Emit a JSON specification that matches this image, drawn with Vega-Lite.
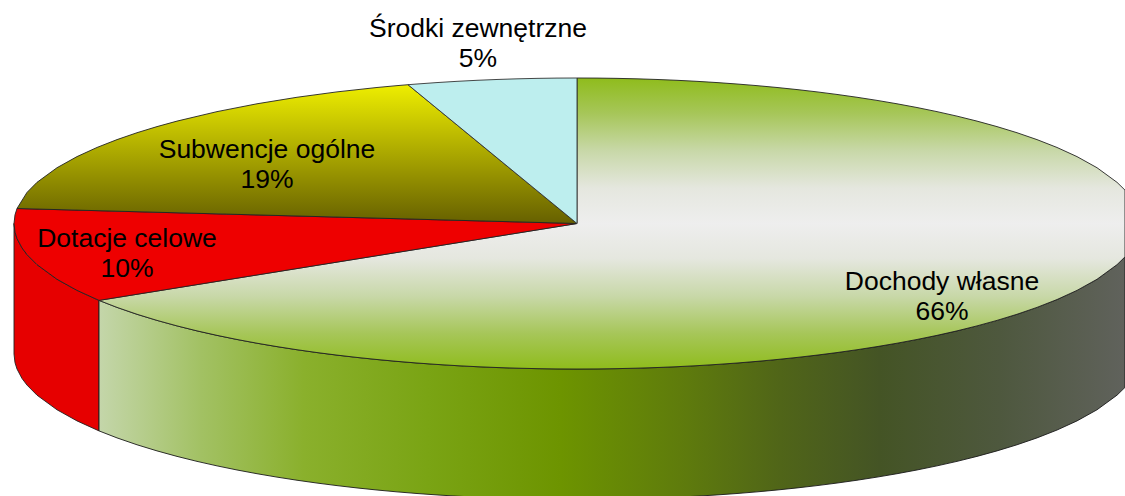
{"$schema":"https://vega.github.io/schema/vega-lite/v6.json","width":1125,"height":496,"padding":0,"autosize":{"type":"fit","contains":"padding"},"background":"white","view":{"stroke":null},
"datasets":{
"rimRed":[{"x":14,"y":223.5,"y2":354},{"x":15,"y":232.17,"y2":362.67},{"x":17,"y":238.49,"y2":368.99},{"x":22,"y":247.94,"y2":378.44},{"x":27,"y":254.58,"y2":385.08},{"x":37,"y":264.66,"y2":395.16},{"x":57,"y":279.27,"y2":409.77},{"x":77,"y":290.38,"y2":420.88},{"x":99,"y":300.38,"y2":430.88}],
"rimGreen":[{"x":99,"y":300.38,"y2":430.88},{"x":117,"y":307.39,"y2":437.89},{"x":137,"y":314.27,"y2":444.77},{"x":157,"y":320.39,"y2":450.89},{"x":177,"y":325.89,"y2":456.39},{"x":197,"y":330.86,"y2":461.36},{"x":217,"y":335.37,"y2":465.87},{"x":237,"y":339.47,"y2":469.97},{"x":257,"y":343.21,"y2":473.71},{"x":277,"y":346.62,"y2":477.12},{"x":297,"y":349.73,"y2":480.23},{"x":317,"y":352.56,"y2":483.06},{"x":337,"y":355.12,"y2":485.62},{"x":357,"y":357.43,"y2":487.93},{"x":377,"y":359.51,"y2":490.01},{"x":397,"y":361.36,"y2":491.86},{"x":417,"y":363,"y2":493.5},{"x":437,"y":364.43,"y2":494.93},{"x":457,"y":365.66,"y2":496.16},{"x":477,"y":366.69,"y2":497.19},{"x":497,"y":367.52,"y2":498.02},{"x":517,"y":368.17,"y2":498.67},{"x":537,"y":368.63,"y2":499.13},{"x":557,"y":368.91,"y2":499.41},{"x":577,"y":369,"y2":499.5},{"x":597,"y":368.91,"y2":499.41},{"x":617,"y":368.63,"y2":499.13},{"x":637,"y":368.17,"y2":498.67},{"x":657,"y":367.52,"y2":498.02},{"x":677,"y":366.69,"y2":497.19},{"x":697,"y":365.66,"y2":496.16},{"x":717,"y":364.43,"y2":494.93},{"x":737,"y":363,"y2":493.5},{"x":757,"y":361.36,"y2":491.86},{"x":777,"y":359.51,"y2":490.01},{"x":797,"y":357.43,"y2":487.93},{"x":817,"y":355.12,"y2":485.62},{"x":837,"y":352.56,"y2":483.06},{"x":857,"y":349.73,"y2":480.23},{"x":877,"y":346.62,"y2":477.12},{"x":897,"y":343.21,"y2":473.71},{"x":917,"y":339.47,"y2":469.97},{"x":937,"y":335.37,"y2":465.87},{"x":957,"y":330.86,"y2":461.36},{"x":977,"y":325.89,"y2":456.39},{"x":997,"y":320.39,"y2":450.89},{"x":1017,"y":314.27,"y2":444.77},{"x":1037,"y":307.39,"y2":437.89},{"x":1057,"y":299.54,"y2":430.04},{"x":1077,"y":290.38,"y2":420.88},{"x":1097,"y":279.27,"y2":409.77},{"x":1117,"y":264.66,"y2":395.16},{"x":1125,"y":256.86,"y2":387.36}],
"topGreen":[{"x":99,"y":300.38,"y2":300.38},{"x":117,"y":297.49,"y2":307.39},{"x":137,"y":294.27,"y2":314.27},{"x":157,"y":291.05,"y2":320.39},{"x":177,"y":287.84,"y2":325.89},{"x":197,"y":284.62,"y2":330.86},{"x":217,"y":281.4,"y2":335.37},{"x":237,"y":278.19,"y2":339.47},{"x":257,"y":274.97,"y2":343.21},{"x":277,"y":271.75,"y2":346.62},{"x":297,"y":268.54,"y2":349.73},{"x":317,"y":265.32,"y2":352.56},{"x":337,"y":262.1,"y2":355.12},{"x":357,"y":258.88,"y2":357.43},{"x":377,"y":255.67,"y2":359.51},{"x":397,"y":252.45,"y2":361.36},{"x":417,"y":249.23,"y2":363},{"x":437,"y":246.02,"y2":364.43},{"x":457,"y":242.8,"y2":365.66},{"x":477,"y":239.58,"y2":366.69},{"x":497,"y":236.37,"y2":367.52},{"x":517,"y":233.15,"y2":368.17},{"x":537,"y":229.93,"y2":368.63},{"x":557,"y":226.72,"y2":368.91},{"x":577,"y":223.5,"y2":369},{"x":577.01,"y":78,"y2":369},{"x":597,"y":78.09,"y2":368.91},{"x":617,"y":78.37,"y2":368.63},{"x":637,"y":78.83,"y2":368.17},{"x":657,"y":79.48,"y2":367.52},{"x":677,"y":80.31,"y2":366.69},{"x":697,"y":81.34,"y2":365.66},{"x":717,"y":82.57,"y2":364.43},{"x":737,"y":84,"y2":363},{"x":757,"y":85.64,"y2":361.36},{"x":777,"y":87.49,"y2":359.51},{"x":797,"y":89.57,"y2":357.43},{"x":817,"y":91.88,"y2":355.12},{"x":837,"y":94.44,"y2":352.56},{"x":857,"y":97.27,"y2":349.73},{"x":877,"y":100.38,"y2":346.62},{"x":897,"y":103.79,"y2":343.21},{"x":917,"y":107.53,"y2":339.47},{"x":937,"y":111.63,"y2":335.37},{"x":957,"y":116.14,"y2":330.86},{"x":977,"y":121.11,"y2":325.89},{"x":997,"y":126.61,"y2":320.39},{"x":1017,"y":132.73,"y2":314.27},{"x":1037,"y":139.61,"y2":307.39},{"x":1057,"y":147.46,"y2":299.54},{"x":1077,"y":156.62,"y2":290.38},{"x":1097,"y":167.73,"y2":279.27},{"x":1117,"y":182.34,"y2":264.66},{"x":1125,"y":190.14,"y2":256.86}],
"topRed":[{"x":14,"y":223.5,"y2":223.5},{"x":15,"y":214.83,"y2":232.17},{"x":17,"y":208.51,"y2":238.49},{"x":22,"y":208.64,"y2":247.94},{"x":27,"y":208.78,"y2":254.58},{"x":37,"y":209.05,"y2":264.66},{"x":57,"y":209.58,"y2":279.27},{"x":77,"y":210.12,"y2":290.38},{"x":99,"y":210.7,"y2":300.38},{"x":577,"y":223.5,"y2":223.5}],
"topYellow":[{"x":17,"y":208.51,"y2":208.51},{"x":27,"y":192.42,"y2":208.78},{"x":37,"y":182.34,"y2":209.05},{"x":57,"y":167.73,"y2":209.58},{"x":77,"y":156.62,"y2":210.12},{"x":97,"y":147.46,"y2":210.66},{"x":117,"y":139.61,"y2":211.2},{"x":137,"y":132.73,"y2":211.73},{"x":157,"y":126.61,"y2":212.27},{"x":177,"y":121.11,"y2":212.79},{"x":217,"y":111.63,"y2":213.86},{"x":257,"y":103.79,"y2":214.93},{"x":297,"y":97.27,"y2":216},{"x":337,"y":91.88,"y2":217.08},{"x":377,"y":87.49,"y2":218.15},{"x":397,"y":85.64,"y2":218.68},{"x":408,"y":84.71,"y2":218.98},{"x":577,"y":223.5,"y2":223.5}],
"topCyan":[{"x":408,"y":84.71,"y2":84.71},{"x":417,"y":84,"y2":92.1},{"x":437,"y":82.57,"y2":108.53},{"x":457,"y":81.34,"y2":124.95},{"x":477,"y":80.31,"y2":141.37},{"x":497,"y":79.48,"y2":157.8},{"x":517,"y":78.83,"y2":174.22},{"x":537,"y":78.37,"y2":190.65},{"x":557,"y":78.09,"y2":207.08},{"x":577,"y":78,"y2":223.5}],
"labels":[{"name":"Środki zewnętrzne\n5%","x":478,"y":37},{"name":"Subwencje ogólne\n19%","x":267,"y":158},{"name":"Dotacje celowe\n10%","x":127,"y":247},{"name":"Dochody własne\n66%","x":942,"y":290}]},
"encoding":{"x":{"field":"x","type":"quantitative","scale":{"domain":[0,1125],"nice":false,"zero":false},"axis":null},"y":{"field":"y","type":"quantitative","scale":{"domain":[496,0],"nice":false,"zero":false},"axis":null}},
"layer":[
{"data":{"name":"rimRed"},"mark":{"type":"area","clip":true,"fill":"#e60000","stroke":"#222222","strokeWidth":0.9},"encoding":{"y2":{"field":"y2"}}},
{"data":{"name":"rimGreen"},"mark":{"type":"area","clip":true,"stroke":"#1a1a1a","strokeWidth":0.9,"fill":{"gradient":"linear","x1":0,"y1":0,"x2":1,"y2":0,"stops":[{"offset":0,"color":"#c4d6aa"},{"offset":0.1,"color":"#a2c163"},{"offset":0.2,"color":"#8ab02c"},{"offset":0.32,"color":"#7aa414"},{"offset":0.45,"color":"#6d9400"},{"offset":0.566,"color":"#5f7c0c"},{"offset":0.664,"color":"#506518"},{"offset":0.761,"color":"#445425"},{"offset":0.878,"color":"#4e583e"},{"offset":1,"color":"#60625c"}]}},"encoding":{"y2":{"field":"y2"}}},
{"data":{"name":"topGreen"},"mark":{"type":"area","clip":true,"stroke":"#222222","strokeWidth":0.9,"fill":{"gradient":"linear","x1":0,"y1":0,"x2":0,"y2":1,"stops":[{"offset":0,"color":"#8fbc1c"},{"offset":0.12,"color":"#a6c658"},{"offset":0.25,"color":"#c8d8a8"},{"offset":0.38,"color":"#e5e7df"},{"offset":0.5,"color":"#eeeeee"},{"offset":0.62,"color":"#e5e7df"},{"offset":0.75,"color":"#c8d8a8"},{"offset":0.88,"color":"#a6c658"},{"offset":1,"color":"#8fbc1c"}]}},"encoding":{"y2":{"field":"y2"}}},
{"data":{"name":"topRed"},"mark":{"type":"area","clip":true,"fill":"#ee0000","stroke":"#222222","strokeWidth":0.9},"encoding":{"y2":{"field":"y2"}}},
{"data":{"name":"topYellow"},"mark":{"type":"area","clip":true,"stroke":"#222222","strokeWidth":0.9,"fill":{"gradient":"linear","x1":0,"y1":0,"x2":0,"y2":1,"stops":[{"offset":0,"color":"#eeee00"},{"offset":1,"color":"#666000"}]}},"encoding":{"y2":{"field":"y2"}}},
{"data":{"name":"topCyan"},"mark":{"type":"area","clip":true,"fill":"#bdeeee","stroke":"#333333","strokeWidth":0.9},"encoding":{"y2":{"field":"y2"}}},
{"data":{"name":"labels"},"mark":{"type":"text","font":"Liberation Sans","fontSize":26.5,"color":"#000000","align":"center","baseline":"alphabetic","lineBreak":"\n","lineHeight":30},"encoding":{"text":{"field":"name"}}}
]}
